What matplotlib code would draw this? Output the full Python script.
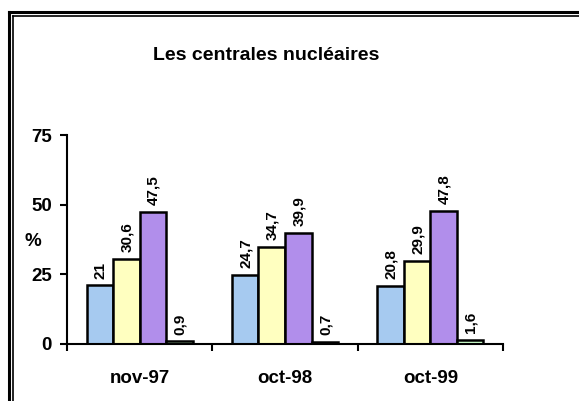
import numpy as np
import matplotlib
matplotlib.use('Agg')
import matplotlib.pyplot as plt
from matplotlib.lines import Line2D

plt.rcParams['font.family'] = ['Liberation Sans', 'DejaVu Sans']
plt.rcParams['font.weight'] = 'bold'

# donnees
categories = ['nov-97', 'oct-98', 'oct-99']
serie1 = [21, 24.7, 20.8]
serie2 = [30.6, 34.7, 29.9]
serie3 = [47.5, 39.9, 47.8]
serie4 = [0.9, 0.7, 1.6]
labels = [['21', '30,6', '47,5', '0,9'],
          ['24,7', '34,7', '39,9', '0,7'],
          ['20,8', '29,9', '47,8', '1,6']]
couleurs = ['#A6CAF0', '#FFFFC0', '#B18EEB', '#CCFFCC']
yticks = [0, 25, 50, 75]

fig = plt.figure(figsize=(5.79, 4.01), dpi=100)
ax = fig.add_axes([67/579, 57/401, 436/579, 209/401])

series = [serie1, serie2, serie3, serie4]
x = np.arange(len(categories))
w = 0.73 / 4
for i, s in enumerate(series):
    pos = x + (i - 1.5) * w
    bars = ax.bar(pos, s, width=w, color=couleurs[i], edgecolor='black', linewidth=1.8, zorder=3)
    for j, b in enumerate(bars):
        ax.annotate(labels[j][i], (b.get_x() + w/2, b.get_height()),
                    xytext=(0.5, 5), textcoords='offset points',
                    rotation=90, ha='center', va='bottom', fontsize=11, fontweight='bold')

ax.set_xlim(-0.5, 2.5)
ax.set_ylim(0, 75)
ax.set_yticks(yticks)
ax.set_xticks(x)
ax.set_xticklabels(categories)
ax.set_xticks([-0.5, 0.5, 1.5, 2.5], minor=True)
ax.tick_params(axis='x', which='major', length=0, pad=19, labelsize=13.5)
ax.tick_params(axis='x', which='minor', length=5, width=1.5, direction='out')
ax.tick_params(axis='y', length=5, width=1.5, direction='out', pad=6, labelsize=13.5)
for lab in ax.get_xticklabels() + ax.get_yticklabels():
    lab.set_fontweight('bold')
for sp in ['top', 'right']:
    ax.spines[sp].set_visible(False)
for sp in ['left', 'bottom']:
    ax.spines[sp].set_linewidth(1.5)
ax.spines['bottom'].set_zorder(4)

fig.text(33/579, 1 - 241/401, '%', ha='center', va='center', fontsize=13.5, fontweight='bold')
fig.text(266.5/579, 1 - 55/401, 'Les centrales nucléaires', ha='center', va='center',
         fontsize=14, fontweight='bold')

# cadre double
W, H = 579, 401
fig.add_artist(Line2D([8.5/W, 8.5/W], [0, 1 - 12/H], transform=fig.transFigure, color='black', lw=2.2))
fig.add_artist(Line2D([8.5/W, 1], [1 - 12/H, 1 - 12/H], transform=fig.transFigure, color='black', lw=2.2))
fig.add_artist(Line2D([12.5/W, 12.5/W], [0, 1 - 15.5/H], transform=fig.transFigure, color='black', lw=1.2))
fig.add_artist(Line2D([12.5/W, 1], [1 - 15.5/H, 1 - 15.5/H], transform=fig.transFigure, color='black', lw=1.2))

fig.savefig('out.png', dpi=100)
